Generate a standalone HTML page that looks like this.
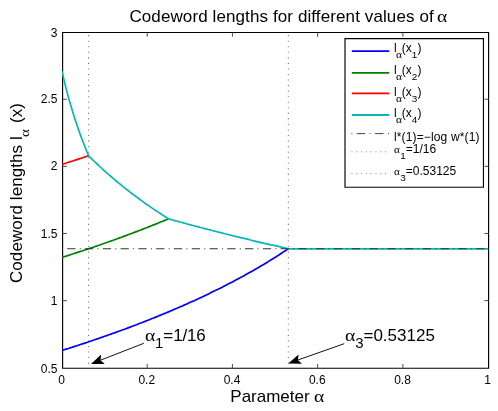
<!DOCTYPE html><html><head><meta charset="utf-8"><title>Codeword lengths</title><style>
html,body{margin:0;padding:0;background:#fff}
body{width:498px;height:411px;position:relative;overflow:hidden;font-family:"Liberation Sans",sans-serif;color:#000}
#txt{position:absolute;left:0;top:0;width:498px;height:411px;will-change:transform}
.t{position:absolute;white-space:nowrap;line-height:1;color:#000}
.a{font-family:"Liberation Serif",serif;font-size:100%;line-height:0;display:inline-block;width:0.620em;transform:scaleX(1.150);transform-origin:0 50%}
sub .a{margin-left:-0.100em}
sub{font-size:83%;vertical-align:baseline;position:relative;top:0.590em;line-height:0}
sub.sa{font-size:88%;top:7px}
sub.sy{font-size:76%;top:7.2px;margin-right:1.7px}
</style></head><body>
<svg width="498" height="411" viewBox="0 0 498 411" style="position:absolute;left:0;top:0">
<rect x="0" y="0" width="498" height="411" fill="#fff"/>
<defs><clipPath id="cp"><rect x="62.0" y="31.9" width="427.2" height="336.9"/></clipPath></defs>
<line x1="88.58" y1="35.1" x2="88.58" y2="368.2" stroke="#7a7a7a" stroke-width="1.1" stroke-dasharray="1.1 4.45"/>
<line x1="288.34" y1="35.1" x2="288.34" y2="368.2" stroke="#7a7a7a" stroke-width="1.1" stroke-dasharray="1.1 4.45"/>
<path d="M62.60,32.50 H488.60 V368.20 H62.60 Z" fill="none" stroke="#000" stroke-width="1.15"/>
<line x1="147.18" y1="368.2" x2="147.18" y2="364.0" stroke="#4a4a4a" stroke-width="1"/>
<line x1="147.18" y1="32.5" x2="147.18" y2="36.7" stroke="#4a4a4a" stroke-width="1"/>
<line x1="62.6" y1="300.62" x2="66.8" y2="300.62" stroke="#4a4a4a" stroke-width="1"/>
<line x1="488.6" y1="300.62" x2="484.4" y2="300.62" stroke="#4a4a4a" stroke-width="1"/>
<line x1="232.41" y1="368.2" x2="232.41" y2="364.0" stroke="#4a4a4a" stroke-width="1"/>
<line x1="232.41" y1="32.5" x2="232.41" y2="36.7" stroke="#4a4a4a" stroke-width="1"/>
<line x1="62.6" y1="233.49" x2="66.8" y2="233.49" stroke="#4a4a4a" stroke-width="1"/>
<line x1="488.6" y1="233.49" x2="484.4" y2="233.49" stroke="#4a4a4a" stroke-width="1"/>
<line x1="317.64" y1="368.2" x2="317.64" y2="364.0" stroke="#4a4a4a" stroke-width="1"/>
<line x1="317.64" y1="32.5" x2="317.64" y2="36.7" stroke="#4a4a4a" stroke-width="1"/>
<line x1="62.6" y1="166.36" x2="66.8" y2="166.36" stroke="#4a4a4a" stroke-width="1"/>
<line x1="488.6" y1="166.36" x2="484.4" y2="166.36" stroke="#4a4a4a" stroke-width="1"/>
<line x1="402.87" y1="368.2" x2="402.87" y2="364.0" stroke="#4a4a4a" stroke-width="1"/>
<line x1="402.87" y1="32.5" x2="402.87" y2="36.7" stroke="#4a4a4a" stroke-width="1"/>
<line x1="62.6" y1="99.23" x2="66.8" y2="99.23" stroke="#4a4a4a" stroke-width="1"/>
<line x1="488.6" y1="99.23" x2="484.4" y2="99.23" stroke="#4a4a4a" stroke-width="1"/>
<path d="M62.0,350.5 L64.1,349.8 L66.2,349.1 L68.3,348.5 L70.5,347.8 L72.6,347.1 L74.7,346.4 L76.9,345.7 L79.0,345.0 L81.1,344.3 L83.3,343.6 L85.4,342.9 L87.5,342.2 L88.6,341.8 L89.6,341.5 L91.8,340.7 L93.9,340.0 L96.0,339.3 L98.2,338.6 L100.3,337.8 L102.4,337.1 L104.6,336.3 L106.7,335.6 L108.8,334.8 L111.0,334.1 L113.1,333.3 L115.2,332.6 L117.3,331.8 L119.5,331.0 L121.6,330.2 L123.7,329.5 L125.9,328.7 L128.0,327.9 L130.1,327.1 L132.3,326.3 L134.4,325.5 L136.5,324.7 L138.7,323.8 L140.8,323.0 L142.9,322.2 L145.0,321.4 L147.2,320.5 L149.3,319.7 L151.4,318.8 L153.6,318.0 L155.7,317.1 L157.8,316.3 L160.0,315.4 L162.1,314.5 L164.2,313.6 L166.4,312.8 L168.5,311.9 L170.6,311.0 L172.7,310.1 L174.9,309.1 L177.0,308.2 L179.1,307.3 L181.3,306.4 L183.4,305.4 L185.5,304.5 L187.7,303.6 L189.8,302.6 L191.9,301.6 L194.1,300.7 L196.2,299.7 L198.3,298.7 L200.4,297.7 L202.6,296.7 L204.7,295.7 L206.8,294.7 L209.0,293.7 L211.1,292.6 L213.2,291.6 L215.4,290.6 L217.5,289.5 L219.6,288.5 L221.8,287.4 L223.9,286.3 L226.0,285.2 L228.1,284.1 L230.3,283.0 L232.4,281.9 L234.5,280.8 L236.7,279.6 L238.8,278.5 L240.9,277.3 L243.1,276.2 L245.2,275.0 L247.3,273.8 L249.5,272.6 L251.6,271.4 L253.7,270.2 L255.8,269.0 L258.0,267.8 L260.1,266.5 L262.2,265.2 L264.4,264.0 L266.5,262.7 L268.6,261.4 L270.8,260.1 L272.9,258.8 L275.0,257.4 L277.2,256.1 L279.3,254.7 L281.4,253.3 L283.5,251.9 L285.7,250.5 L287.8,249.1 L288.3,248.8" fill="none" stroke="#0000ff" stroke-width="1.7" stroke-linejoin="round" clip-path="url(#cp)"/>
<path d="M62.0,257.4 L64.1,256.7 L66.2,256.1 L68.3,255.4 L70.5,254.7 L72.6,254.0 L74.7,253.3 L76.9,252.6 L79.0,251.9 L81.1,251.2 L83.3,250.5 L85.4,249.8 L87.5,249.1 L88.6,248.8 L89.6,248.4 L91.8,247.7 L93.9,247.0 L96.0,246.2 L98.2,245.5 L100.3,244.8 L102.4,244.0 L104.6,243.3 L106.7,242.5 L108.8,241.8 L111.0,241.0 L113.1,240.3 L115.2,239.5 L117.3,238.7 L119.5,237.9 L121.6,237.2 L123.7,236.4 L125.9,235.6 L128.0,234.8 L130.1,234.0 L132.3,233.2 L134.4,232.4 L136.5,231.6 L138.7,230.8 L140.8,230.0 L142.9,229.1 L145.0,228.3 L147.2,227.5 L149.3,226.6 L151.4,225.8 L153.6,224.9 L155.7,224.1 L157.8,223.2 L160.0,222.3 L162.1,221.5 L164.2,220.6 L166.4,219.7 L168.5,218.8" fill="none" stroke="#008000" stroke-width="1.7" stroke-linejoin="round" clip-path="url(#cp)"/>
<path d="M62.0,164.4 L64.1,163.7 L66.2,163.0 L68.3,162.3 L70.5,161.6 L72.6,161.0 L74.7,160.3 L76.9,159.6 L79.0,158.9 L81.1,158.2 L83.3,157.5 L85.4,156.8 L87.5,156.1 L88.6,155.7" fill="none" stroke="#ff0000" stroke-width="1.7" stroke-linejoin="round" clip-path="url(#cp)"/>
<path d="M62.0,71.3 L64.1,80.4 L66.2,88.9 L68.3,96.9 L70.5,104.4 L72.6,111.6 L74.7,118.4 L76.9,124.8 L79.0,131.0 L81.1,136.9 L83.3,142.5 L85.4,148.0 L87.5,153.2 L88.6,155.7 L89.6,156.8 L91.8,158.9 L93.9,161.0 L96.0,163.0 L98.2,165.0 L100.3,167.0 L102.4,169.0 L104.6,170.9 L106.7,172.8 L108.8,174.7 L111.0,176.5 L113.1,178.4 L115.2,180.2 L117.3,182.0 L119.5,183.7 L121.6,185.4 L123.7,187.1 L125.9,188.8 L128.0,190.5 L130.1,192.2 L132.3,193.8 L134.4,195.4 L136.5,197.0 L138.7,198.5 L140.8,200.1 L142.9,201.6 L145.0,203.2 L147.2,204.7 L149.3,206.1 L151.4,207.6 L153.6,209.1 L155.7,210.5 L157.8,211.9 L160.0,213.3 L162.1,214.7 L164.2,216.1 L166.4,217.4 L168.5,218.8 L170.6,219.4 L172.7,220.0 L174.9,220.6 L177.0,221.2 L179.1,221.7 L181.3,222.3 L183.4,222.9 L185.5,223.5 L187.7,224.1 L189.8,224.6 L191.9,225.2 L194.1,225.8 L196.2,226.3 L198.3,226.9 L200.4,227.5 L202.6,228.0 L204.7,228.6 L206.8,229.1 L209.0,229.7 L211.1,230.2 L213.2,230.8 L215.4,231.3 L217.5,231.9 L219.6,232.4 L221.8,232.9 L223.9,233.5 L226.0,234.0 L228.1,234.5 L230.3,235.1 L232.4,235.6 L234.5,236.1 L236.7,236.7 L238.8,237.2 L240.9,237.7 L243.1,238.2 L245.2,238.7 L247.3,239.2 L249.5,239.7 L251.6,240.3 L253.7,240.8 L255.8,241.3 L258.0,241.8 L260.1,242.3 L262.2,242.8 L264.4,243.3 L266.5,243.8 L268.6,244.3 L270.8,244.8 L272.9,245.2 L275.0,245.7 L277.2,246.2 L279.3,246.7 L281.4,247.2 L283.5,247.7 L285.7,248.2 L287.8,248.6 L288.3,248.8 L488.1,248.8" fill="none" stroke="#07b6b7" stroke-width="1.7" stroke-linejoin="round" clip-path="url(#cp)"/>
<line x1="62.0" y1="248.76" x2="488.6" y2="248.76" stroke="#333" stroke-width="1.1" stroke-dasharray="1 4.25 8.25 4.28"/>
<path d="M345.00,38.60 H483.45 V187.20 H345.00 Z" fill="#fff" stroke="#000" stroke-width="1.15"/>
<line x1="351.8" y1="51.1" x2="389.3" y2="51.1" stroke="#0000ff" stroke-width="1.9"/>
<line x1="351.8" y1="72.9" x2="389.3" y2="72.9" stroke="#008000" stroke-width="1.9"/>
<line x1="351.8" y1="93.4" x2="389.3" y2="93.4" stroke="#ff0000" stroke-width="1.9"/>
<line x1="351.8" y1="115.0" x2="389.3" y2="115.0" stroke="#07b6b7" stroke-width="1.9"/>
<line x1="351.4" y1="133.6" x2="389.5" y2="133.6" stroke="#444" stroke-width="1" stroke-dasharray="1 4.5 8.3 4.5"/>
<line x1="351.4" y1="151.8" x2="389.5" y2="151.8" stroke="#8c8c8c" stroke-width="1" stroke-dasharray="1.1 3.7"/>
<line x1="351.4" y1="173.6" x2="389.5" y2="173.6" stroke="#8c8c8c" stroke-width="1" stroke-dasharray="1.1 3.7"/>
<line x1="143.80" y1="343.30" x2="100.50" y2="360.19" stroke="#111" stroke-width="1"/>
<path d="M91.00,363.90 L101.11,354.59 L100.50,360.19 L104.74,363.91 Z" fill="#000"/>
<line x1="344.20" y1="343.70" x2="297.82" y2="360.02" stroke="#111" stroke-width="1"/>
<path d="M288.20,363.40 L298.62,354.44 L297.82,360.02 L301.93,363.87 Z" fill="#000"/>
</svg>
<div id="txt">
<div class="t" id="xt0" style="left:31.55px;top:374px;font-size:12px;width:60px;text-align:center">0</div>
<div class="t" id="xt1" style="left:116.78px;top:374px;font-size:12px;width:60px;text-align:center">0.2</div>
<div class="t" id="xt2" style="left:202.01px;top:374px;font-size:12px;width:60px;text-align:center">0.4</div>
<div class="t" id="xt3" style="left:287.24px;top:374px;font-size:12px;width:60px;text-align:center">0.6</div>
<div class="t" id="xt4" style="left:372.47px;top:374px;font-size:12px;width:60px;text-align:center">0.8</div>
<div class="t" id="xt5" style="left:457.70px;top:374px;font-size:12px;width:60px;text-align:center">1</div>
<div class="t" id="yt0" style="left:-2.60px;top:363px;font-size:12px;width:60px;text-align:right">0.5</div>
<div class="t" id="yt1" style="left:-2.60px;top:295px;font-size:12px;width:60px;text-align:right">1</div>
<div class="t" id="yt2" style="left:-2.60px;top:228px;font-size:12px;width:60px;text-align:right">1.5</div>
<div class="t" id="yt3" style="left:-2.60px;top:160px;font-size:12px;width:60px;text-align:right">2</div>
<div class="t" id="yt4" style="left:-2.60px;top:93px;font-size:12px;width:60px;text-align:right">2.5</div>
<div class="t" id="yt5" style="left:-2.60px;top:27px;font-size:12px;width:60px;text-align:right">3</div>
<div class="t" id="title" style="left:129.40px;top:8px;font-size:17px;letter-spacing:0.105px">Codeword lengths for different values of <span style="margin-left:-2px"><span class="a">α</span></span></div>
<div class="t" id="xlabel" style="left:230.30px;top:388px;font-size:17px;">Parameter <span style="margin-left:-0.8px"><span class="a">α</span></span></div>
<div class="t" id="ylabel" style="left:8.01px;top:283.10px;font-size:17px;transform-origin:0 0;transform:rotate(-90deg);letter-spacing:0.07px">Codeword lengths l<sub class="sy"><span class="a">α</span></sub> (x)</div>
<div class="t" id="lg1" style="left:394.00px;top:42px;font-size:12px;">l<sub><span class="a">α</span></sub>(x<sub>1</sub>)</div>
<div class="t" id="lg2" style="left:394.00px;top:64px;font-size:12px;">l<sub><span class="a">α</span></sub>(x<sub>2</sub>)</div>
<div class="t" id="lg3" style="left:394.00px;top:86px;font-size:12px;">l<sub><span class="a">α</span></sub>(x<sub>3</sub>)</div>
<div class="t" id="lg4" style="left:394.00px;top:107px;font-size:12px;">l<sub><span class="a">α</span></sub>(x<sub>4</sub>)</div>
<div class="t" id="lg5" style="left:394.00px;top:131px;font-size:12px;letter-spacing:0.14px">l*(1)=−log w*(1)</div>
<div class="t" id="lg6" style="left:394.20px;top:143px;font-size:12px;"><span class="a" style="font-size:82%">α</span><sub>1</sub>=1/16</div>
<div class="t" id="lg7" style="left:394.20px;top:165px;font-size:12px;"><span class="a" style="font-size:82%">α</span><sub>3</sub>=0.53125</div>
<div class="t" id="an1" style="left:144.50px;top:327px;font-size:17px;"><span class="a">α</span><sub class="sa">1</sub>=<span style="letter-spacing:-0.25px">1/16</span></div>
<div class="t" id="an2" style="left:344.60px;top:327px;font-size:17px;"><span class="a">α</span><sub class="sa">3</sub>=0.53125</div>
</div>
</body></html>
